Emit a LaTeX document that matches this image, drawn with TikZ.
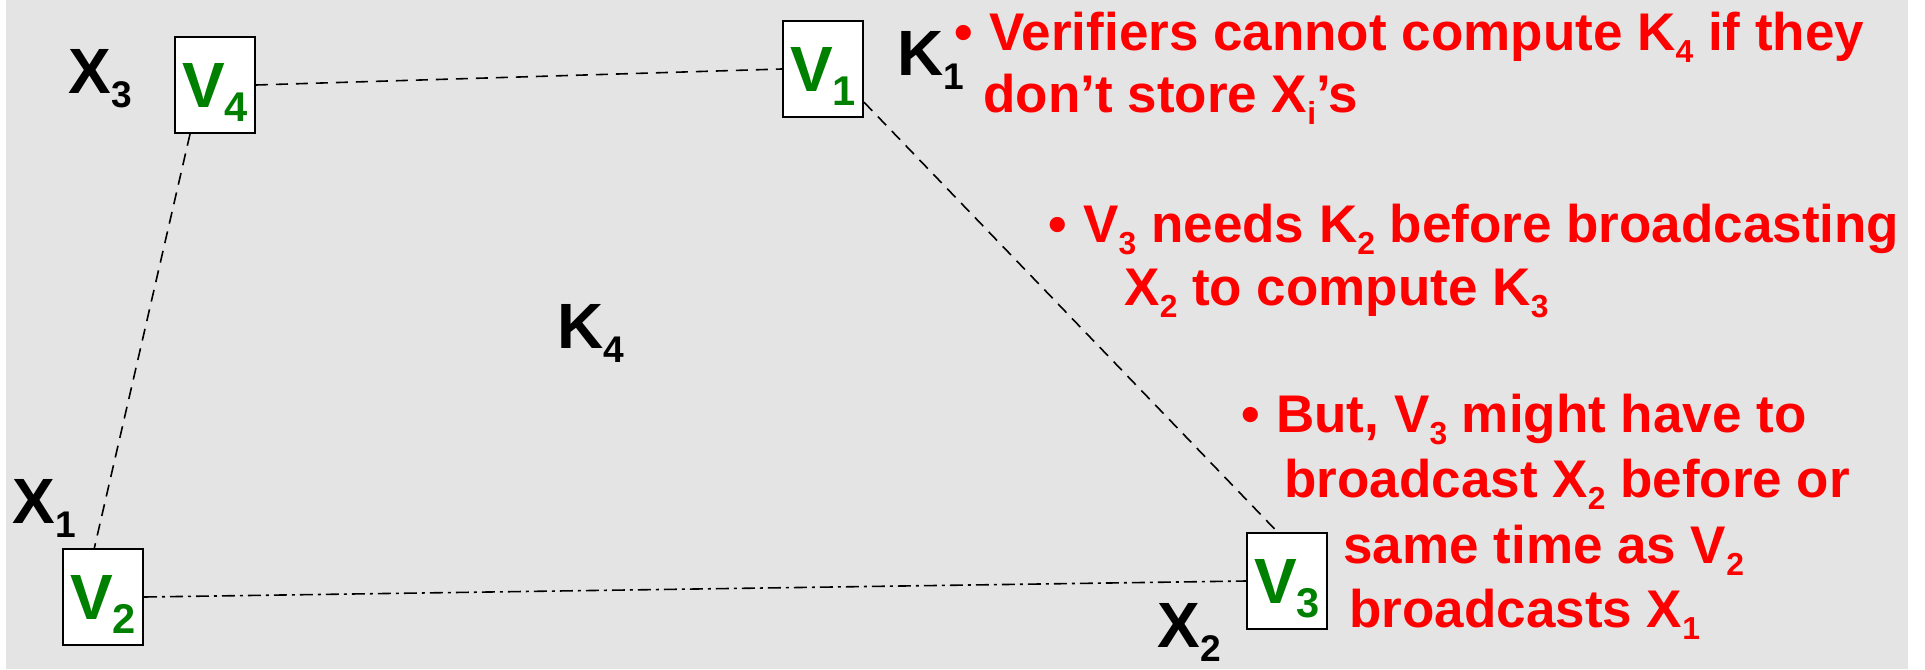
\documentclass[tikz,border=0pt]{standalone}
\usepackage{fontspec}
\setmainfont{Liberation Sans}
\usepackage{xcolor}
\definecolor{vgreen}{RGB}{0,128,0}
\definecolor{slidebg}{RGB}{228,228,228}
\newcommand{\sfSub}[2][0.58]{\raisebox{-0.23em}{\scalebox{#1}{#2}}}
\newcommand{\sfBul}{\makebox[0.66em][l]{\textbullet}}

\begin{document}
\begin{tikzpicture}[x=0.5pt,y=-0.5pt,
  lbl/.style={anchor=base west, inner sep=0pt, font=\bfseries\fontsize{32}{36}\selectfont},
  note/.style={anchor=base west, inner sep=0pt, text=red, font=\bfseries\fontsize{26.5}{30}\selectfont},
  vbox/.style={draw, line width=1pt, fill=white, minimum width=40pt, minimum height=48pt,
    inner sep=0pt, text depth=0pt, text=vgreen, font=\bfseries\fontsize{32}{36}\selectfont},
  link/.style={line width=0.8pt, dash pattern=on 6pt off 4pt},
  dlink/.style={line width=0.8pt, dash pattern=on 6.5pt off 2.5pt on 1.5pt off 2.5pt}]
\useasboundingbox (0,0) rectangle (1925,669);
\fill[slidebg] (6,0) rectangle (1908,669);
% verifiers
\node[vbox] (v4) at (215,85) {V\sfSub[0.65]{4}};
\node[vbox] (v1) at (823,69) {V\sfSub[0.65]{1}};
\node[vbox] (v2) at (103,597) {V\sfSub[0.65]{2}};
\node[vbox] (v3) at (1287,581) {V\sfSub[0.65]{3}};
\draw[link] (v4.east) -- (v1.west);
\draw[link] (v4.-117) -- (v2.100);
\draw[link] (v1.-39) -- (v3.101);
\draw[dlink] (v2.east) -- (v3.west);
% keys and shares
\node[lbl] (x3) at (68,93) {X\sfSub{3}};
\node[lbl] (k1) at (897,75) {K\sfSub{1}};
\node[lbl] (k4) at (557,348) {K\sfSub{4}};
\node[lbl] (x1) at (12,523) {X\sfSub{1}};
\node[lbl] (x2) at (1157,647) {X\sfSub{2}};
% notes
\node[note] (n1a) at (954,50) {\sfBul Verifiers cannot compute K\sfSub[0.6]{4} if they};
\node[note] (n1b) at (983,112) {don’t store X\sfSub[0.6]{i}’s};
\node[note] (n2a) at (1048,242) {\sfBul V\sfSub[0.6]{3} needs K\sfSub[0.6]{2} before broadcasting};
\node[note] (n2b) at (1124,305) {X\sfSub[0.6]{2} to compute K\sfSub[0.6]{3}};
\node[note] (n3a) at (1241,432) {\sfBul But, V\sfSub[0.6]{3} might have to};
\node[note] (n3b) at (1284,497) {broadcast X\sfSub[0.6]{2} before or};
\node[note] (n3c) at (1343,563) {same time as V\sfSub[0.6]{2}};
\node[note] (n3d) at (1349,627) {broadcasts X\sfSub[0.6]{1}};
\end{tikzpicture}
\end{document}
